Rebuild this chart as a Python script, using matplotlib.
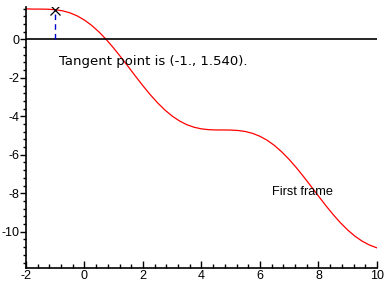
import numpy as np
import matplotlib.pyplot as plt
from matplotlib.ticker import MultipleLocator

# curve values
x_vals = [-2.0, -1.75, -1.5, -1.25, -1.0, -0.75, -0.5, -0.25, 0.0, 0.25, 0.5, 0.75,
          1.0, 1.25, 1.5, 1.75, 2.0, 2.25, 2.5, 2.75, 3.0, 3.25, 3.5, 3.75,
          4.0, 4.25, 4.5, 4.75, 5.0, 5.25, 5.5, 5.75, 6.0, 6.25, 6.5, 6.75,
          7.0, 7.25, 7.5, 7.75, 8.0, 8.25, 8.5, 8.75, 9.0, 9.25, 9.5, 9.75, 10.0]
y_vals = [1.584, 1.572, 1.571, 1.565, 1.540, 1.482, 1.378, 1.219, 1.0, 0.719, 0.378, -0.018,
          -0.460, -0.935, -1.429, -1.928, -2.416, -2.878, -3.301, -3.674, -3.990, -4.244, -4.437, -4.571,
          -4.654, -4.696, -4.711, -4.712, -4.716, -4.738, -4.791, -4.889, -5.040, -5.250, -5.523, -5.857,
          -6.246, -6.682, -7.153, -7.646, -8.146, -8.637, -9.102, -9.532, -9.911, -10.235, -10.497, -10.695, -10.839]

tangent_x = -1.0
tangent_y = 1.540

x_ticks = [-2, 0, 2, 4, 6, 8, 10]
y_ticks = [0, -2, -4, -6, -8, -10]

plt.rcParams['font.family'] = ['Liberation Sans', 'DejaVu Sans']
plt.rcParams['axes.unicode_minus'] = False

fig = plt.figure(figsize=(3.88, 2.88), dpi=100)
ax = fig.add_axes([0.067, 0.0705, 0.9045, 0.9065])

ax.plot(x_vals, y_vals, color='red', linewidth=0.9)
ax.plot([x_vals[0], x_vals[-1]], [0, 0], color='black', linewidth=1.2)
ax.plot([tangent_x, tangent_x], [0, tangent_y], color='#0000cc', linewidth=1.0,
        linestyle=(0, (4, 3)))
ax.plot([tangent_x], [tangent_y], marker='x', color='black', markersize=7, markeredgewidth=0.9)

ax.text(-0.88, -1.15, 'Tangent point is (-1., 1.540).', fontsize=9.5, va='center', ha='left',
        family='DejaVu Sans')
ax.text(6.4, -7.95, 'First frame', fontsize=9.2, va='center', ha='left')

ax.set_xlim(-2, 10)
ax.set_ylim(-11.87, 1.7)
ax.spines['top'].set_visible(False)
ax.spines['right'].set_visible(False)
ax.spines['left'].set_linewidth(1.2)
ax.spines['bottom'].set_linewidth(1.2)

ax.set_xticks(x_ticks)
ax.set_yticks(y_ticks)
ax.xaxis.set_minor_locator(MultipleLocator(0.4))
ax.yaxis.set_minor_locator(MultipleLocator(0.4))
ax.tick_params(axis='x', which='major', direction='in', length=5, width=1, labelsize=9, pad=2)
ax.tick_params(axis='x', which='minor', direction='in', length=3, width=1)
ax.tick_params(axis='y', which='major', direction='out', length=4, width=1, labelsize=9, pad=1)
ax.tick_params(axis='y', which='minor', direction='out', length=2.5, width=1)

fig.savefig('out.png', dpi=100)
